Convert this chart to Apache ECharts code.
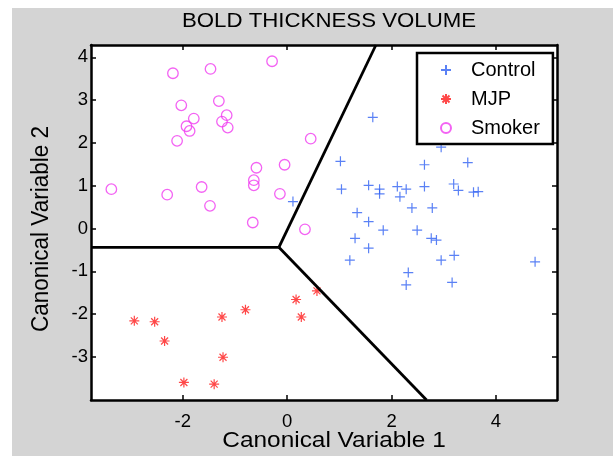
<!DOCTYPE html>
<html>
<head>
<meta charset="utf-8">
<script src="https://cdn.jsdelivr.net/npm/echarts@6/dist/echarts.min.js"></script>
<style>
  html, body { margin: 0; padding: 0; background: #ffffff; }
  #bg { position: absolute; left: 12px; top: 8px; width: 601px; height: 448px; background: #d4d4d4; }
  #chart { position: absolute; left: 0; top: 0; width: 613px; height: 456px; }
</style>
</head>
<body>
<div id="bg"></div>
<div id="chart"></div>
<script>
// ---- data ----
const titleText = 'BOLD THICKNESS VOLUME';
const xName = 'Canonical Variable 1';
const yName = 'Canonical Variable 2';
const seriesNames = ['Control', 'MJP', 'Smoker'];

const xRange = [-3.76, 5.17];
const yRange = [-4.01, 4.29];
const xTicks = [-2, 0, 2, 4];
const yTicks = [-3, -2, -1, 0, 1, 2, 3, 4];

const controlPts = [
  [1.64, 2.60], [1.02, 1.57], [2.63, 1.49], [3.46, 1.54], [2.95, 1.90],
  [1.04, 0.92], [1.56, 1.01], [1.77, 0.92], [1.77, 0.81], [2.11, 0.98],
  [2.28, 0.92], [2.16, 0.74], [2.63, 0.98], [3.19, 1.04], [3.28, 0.89],
  [3.57, 0.85], [3.66, 0.86], [2.39, 0.48], [2.78, 0.48], [1.34, 0.37],
  [1.56, 0.16], [1.84, -0.04], [2.49, -0.04], [1.30, -0.23], [2.76, -0.23],
  [2.86, -0.27], [1.56, -0.46], [1.20, -0.74], [2.95, -0.74], [3.20, -0.63],
  [4.75, -0.78], [2.32, -1.03], [2.28, -1.32], [3.16, -1.26], [0.11, 0.63]
];
const mjpPts = [
  [-2.93, -2.16], [-2.54, -2.18], [-2.35, -2.63], [-1.25, -2.07], [-0.80, -1.90],
  [0.17, -1.66], [0.57, -1.46], [0.27, -2.07], [-1.23, -3.01], [-1.98, -3.60],
  [-1.40, -3.64]
];
const smokerPts = [
  [-2.19, 3.63], [-1.47, 3.73], [-0.29, 3.91], [-2.03, 2.88], [-1.31, 2.98],
  [-1.79, 2.57], [-1.16, 2.65], [-1.93, 2.39], [-1.87, 2.28], [-1.25, 2.50],
  [-1.14, 2.36], [-2.11, 2.05], [0.45, 2.10], [-0.59, 1.42], [-0.05, 1.49],
  [-0.64, 1.13], [-0.64, 1.01], [-3.37, 0.92], [-1.64, 0.97], [-2.30, 0.79],
  [-0.14, 0.81], [-1.48, 0.53], [-0.66, 0.14], [0.34, -0.02]
];
// decision boundaries (junction and the three rays)
const boundaryLeft = [[-3.76, -0.44], [-0.16, -0.44]];
const boundaryUp = [[-0.16, -0.44], [1.70, 4.29]];
const boundaryDown = [[-0.16, -0.44], [2.67, -4.01]];

// ---- styling ----
const FONT = '"Liberation Sans", Arial, Helvetica, sans-serif';
const BLUE = '#3162f2';
const RED = '#ff1a1a';
const MAGENTA = '#f03cf0';
const plusPath = 'path://M5,0L5,10M0,5L10,5';
const starPath = 'path://M5,0L5,10M0,5L10,5M1.5,1.5L8.5,8.5M8.5,1.5L1.5,8.5';

const axisLine = { show: true, onZero: false, lineStyle: { color: '#000', width: 2.5 } };
const tickStyle = { color: '#000', width: 1.5 };

const chart = echarts.init(document.getElementById('chart'), null, { renderer: 'canvas' });

function boundarySeries(pts) {
  return {
    type: 'line', data: pts, symbol: 'none', silent: true, z: 3,
    lineStyle: { color: '#000', width: 2.8 }, legendHoverLink: false
  };
}

chart.setOption({
  backgroundColor: 'transparent',
  animation: false,
  grid: { left: 91, right: 56, top: 45, bottom: 56, show: true, backgroundColor: '#ffffff', borderWidth: 0 },
  xAxis: [
    {
      type: 'value', min: xRange[0], max: xRange[1], position: 'bottom',
      axisLine: axisLine,
      axisTick: { show: true, inside: true, length: 5, customValues: xTicks, lineStyle: tickStyle },
      axisLabel: { customValues: xTicks, margin: 12, fontSize: 18.5, color: '#000', fontFamily: FONT },
      splitLine: { show: false }
    },
    {
      type: 'value', min: xRange[0], max: xRange[1], position: 'top',
      axisLine: axisLine,
      axisTick: { show: true, inside: true, length: 5, customValues: xTicks, lineStyle: tickStyle },
      axisLabel: { show: false },
      splitLine: { show: false }
    }
  ],
  yAxis: [
    {
      type: 'value', min: yRange[0], max: yRange[1], position: 'left',
      axisLine: axisLine,
      axisTick: { show: true, inside: true, length: 5, customValues: yTicks, lineStyle: tickStyle },
      axisLabel: { customValues: yTicks, margin: 3, fontSize: 18.5, color: '#000', fontFamily: FONT },
      splitLine: { show: false }
    },
    {
      type: 'value', min: yRange[0], max: yRange[1], position: 'right',
      axisLine: axisLine,
      axisTick: { show: true, inside: true, length: 5, customValues: yTicks, lineStyle: tickStyle },
      axisLabel: { show: false },
      splitLine: { show: false }
    }
  ],
  legend: {
    data: seriesNames,
    orient: 'vertical',
    left: 417, top: 53,
    padding: [7, 13, 6, 23],
    itemGap: 9,
    itemWidth: 10, itemHeight: 10,
    backgroundColor: '#ffffff',
    borderColor: '#000', borderWidth: 2.5, borderRadius: 0,
    selectedMode: false,
    textStyle: { fontSize: 20, lineHeight: 20, color: '#000', fontFamily: FONT, padding: [0, 0, 0, 15] }
  },
  graphic: [
    {
      type: 'text', x: 329, y: 21.5, scaleX: 1.085, z: 10,
      style: { text: titleText, x: 0, y: 0, align: 'center', verticalAlign: 'middle',
        fontSize: 20.5, fontFamily: FONT, fill: '#000' }
    },
    {
      type: 'text', x: 334, y: 441, scaleX: 1.085, z: 10,
      style: { text: xName, x: 0, y: 0, align: 'center', verticalAlign: 'middle',
        fontSize: 22.5, fontFamily: FONT, fill: '#000' }
    },
    {
      type: 'text', x: 41, y: 229, rotation: Math.PI / 2, scaleY: 1.085, z: 10,
      style: { text: yName, x: 0, y: 0, align: 'center', verticalAlign: 'middle',
        fontSize: 22.5, fontFamily: FONT, fill: '#000' }
    }
  ],
  series: [
    {
      name: seriesNames[0], type: 'scatter', data: controlPts,
      symbol: plusPath, symbolSize: 10,
      itemStyle: { color: 'rgba(0,0,0,0)', borderColor: BLUE, borderWidth: 1.2 }
    },
    {
      name: seriesNames[1], type: 'scatter', data: mjpPts,
      symbol: starPath, symbolSize: 10,
      itemStyle: { color: 'rgba(0,0,0,0)', borderColor: RED, borderWidth: 1.2 }
    },
    {
      name: seriesNames[2], type: 'scatter', data: smokerPts,
      symbol: 'circle', symbolSize: 10.5,
      itemStyle: { color: 'rgba(0,0,0,0)', borderColor: MAGENTA, borderWidth: 1.3 }
    },
    boundarySeries(boundaryLeft),
    boundarySeries(boundaryUp),
    boundarySeries(boundaryDown)
  ]
});
</script>
</body>
</html>
